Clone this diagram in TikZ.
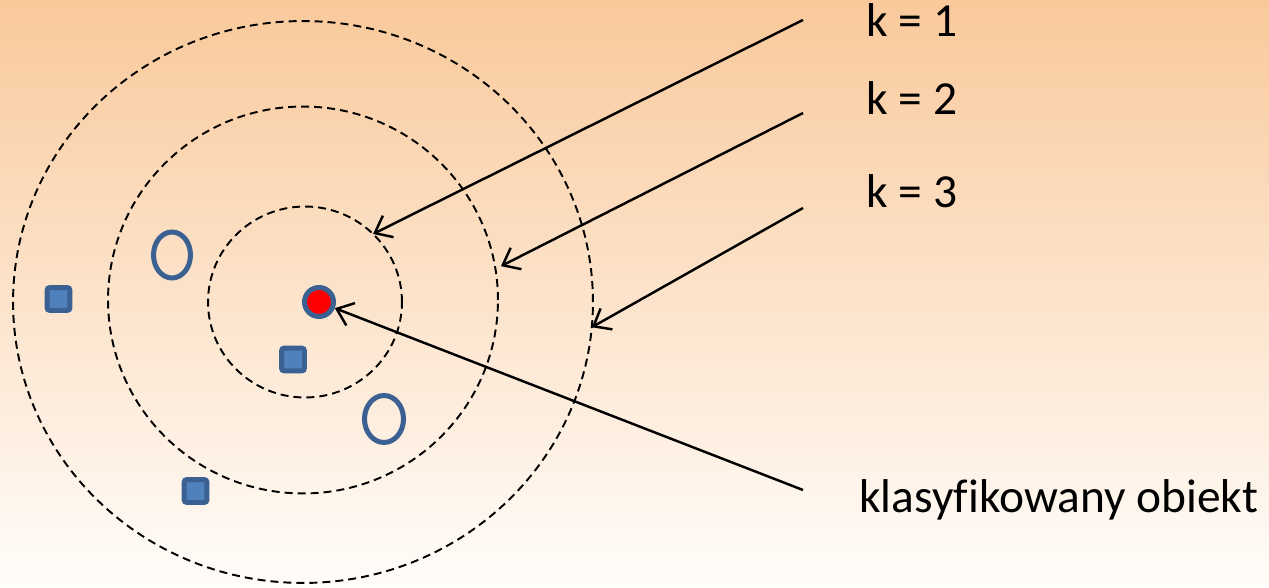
\documentclass[tikz,border=0pt]{standalone}
\usepackage{fontspec}
\setmainfont{Carlito}[Ligatures=NoCommon]
\usetikzlibrary{shapes.geometric,arrows.meta}
\definecolor{bgtop}{RGB}{249,201,155}
\definecolor{bgbot}{RGB}{255,253,250}
\definecolor{ptblue}{RGB}{59,96,146}
\definecolor{ptfill}{RGB}{79,129,189}
\tikzset{
  ring/.style={ellipse,draw=black,dashed,dash pattern=on 0.16cm off 0.1cm,line width=1.1pt,inner sep=0pt,outer sep=0pt},
  sq/.style={rectangle,rounded corners=0.06cm,draw=ptblue,fill=ptfill,line width=0.1cm,minimum size=0.46cm,inner sep=0pt},
  hollow/.style={ellipse,draw=ptblue,line width=0.1cm,inner sep=0pt},
  lbl/.style={anchor=base west,inner sep=0pt,font=\fontsize{27}{32}\selectfont},
  pointer/.style={line width=1.4pt,-{Straight Barb[length=0.3cm,width=0.48cm,line width=1.4pt]}}
}
\begin{document}
\begin{tikzpicture}[x=0.02cm,y=-0.02cm]
\useasboundingbox (0,0) rectangle (1269,588);
\shade[top color=bgtop,bottom color=bgbot] (0,0) rectangle (1269,588);
% rings
\node[ring,minimum width=11.6cm,minimum height=11.24cm] (r3) at (303,302) {};
\node[ring,minimum width=7.8cm,minimum height=7.74cm] (r2) at (303,300) {};
\node[ring,minimum width=3.88cm,minimum height=3.82cm] (r1) at (305,302) {};
% points
\node[sq] (s1) at (58.5,299) {};
\node[sq] (s2) at (293,359.5) {};
\node[sq] (s3) at (195.5,491) {};
\node[hollow,minimum width=0.74cm,minimum height=0.92cm] (o1) at (172,255) {};
\node[hollow,minimum width=0.78cm,minimum height=0.94cm] (o2) at (384,419) {};
\node[circle,draw=ptblue,fill=red,line width=0.1cm,minimum size=0.58cm,inner sep=0pt] (obj) at (319,302) {};
% labels
\node[lbl] (k1) at (866,37) {k = 1};
\node[lbl] (k2) at (866,115) {k = 2};
\node[lbl] (k3) at (866,208) {k = 3};
\node[lbl] (kl) at (859,512) {klasyfikowany obiekt};
% arrow starts
\coordinate (a1) at (803,20);
\coordinate (a2) at (803,113);
\coordinate (a3) at (803,208);
\coordinate (a4) at (803,490);
\draw[pointer] (a1) -- (r1.45);
\draw[pointer] (a2) -- ([xshift=0.12cm]r2.10);
\draw[pointer] (a3) -- (r3.-5.5);
\draw[pointer] (a4) -- (obj);
\end{tikzpicture}
\end{document}
